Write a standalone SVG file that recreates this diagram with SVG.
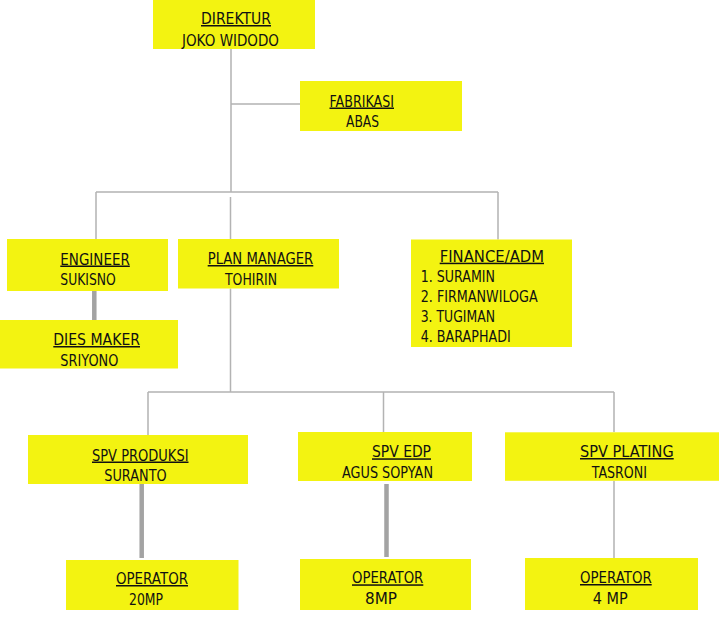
<svg xmlns="http://www.w3.org/2000/svg" width="719" height="620" viewBox="0 0 719 620">
<style>
.box{fill:#f3f311;}
text{font-family:"DejaVu Sans","Liberation Sans",sans-serif;font-size:15px;fill:#111;}
.t{text-decoration:underline;}
.thin{stroke:#b3b3b3;stroke-width:1.5;fill:none;}
.thick{stroke:#a3a3a3;stroke-width:4.5;fill:none;}
</style>
<rect width="719" height="620" fill="#ffffff"/>
<g id="connectors">
<path class="thin" d="M231 49V192M231 104H300M96 192H498M96 192V239M498 192V239.5M230.5 197V239M230.5 288.5V392M148 392H614M148 392V435M383.5 392V432M614 392V432M614 481V558"/>
<path class="thick" d="M94.3 291V320M141.7 484V558M386.5 484V557"/>
</g>
<g id="direktur">
<rect class="box" x="153" y="0" width="162" height="49"/>
<text class="t" x="201" y="24" textLength="70" lengthAdjust="spacingAndGlyphs">DIREKTUR</text>
<text x="182" y="46" textLength="97" lengthAdjust="spacingAndGlyphs">JOKO WIDODO</text>
</g>
<g id="fabrikasi">
<rect class="box" x="300" y="81" width="162" height="50"/>
<text class="t" x="329.5" y="106.5" textLength="64.5" lengthAdjust="spacingAndGlyphs">FABRIKASI</text>
<text x="346" y="126.5" textLength="33" lengthAdjust="spacingAndGlyphs">ABAS</text>
</g>
<g id="engineer">
<rect class="box" x="7" y="239" width="161" height="52"/>
<text class="t" x="60.3" y="264.5" textLength="69.5" lengthAdjust="spacingAndGlyphs">ENGINEER</text>
<text x="60.3" y="284.5" textLength="55.5" lengthAdjust="spacingAndGlyphs">SUKISNO</text>
</g>
<g id="dies-maker">
<rect class="box" x="0" y="320" width="178" height="48.5"/>
<text class="t" x="53.3" y="345" textLength="86.7" lengthAdjust="spacingAndGlyphs">DIES MAKER</text>
<text x="60.3" y="365.5" textLength="58" lengthAdjust="spacingAndGlyphs">SRIYONO</text>
</g>
<g id="plan-manager">
<rect class="box" x="178" y="239" width="161" height="49.5"/>
<text class="t" x="207.7" y="264" textLength="105.6" lengthAdjust="spacingAndGlyphs">PLAN MANAGER</text>
<text x="225" y="284.5" textLength="52" lengthAdjust="spacingAndGlyphs">TOHIRIN</text>
</g>
<g id="finance">
<rect class="box" x="411" y="239.5" width="161" height="107.5"/>
<text class="t" x="439.7" y="261.7" textLength="104.3" lengthAdjust="spacingAndGlyphs">FINANCE/ADM</text>
<text x="420.7" y="282.3" textLength="74.3" lengthAdjust="spacingAndGlyphs">1. SURAMIN</text>
<text x="420.7" y="302.3" textLength="117" lengthAdjust="spacingAndGlyphs">2. FIRMANWILOGA</text>
<text x="420.7" y="322.3" textLength="74.3" lengthAdjust="spacingAndGlyphs">3. TUGIMAN</text>
<text x="420.7" y="342.3" textLength="90" lengthAdjust="spacingAndGlyphs">4. BARAPHADI</text>
</g>
<g id="spv-produksi">
<rect class="box" x="28" y="435" width="220" height="49"/>
<text class="t" x="92" y="460.5" textLength="96.5" lengthAdjust="spacingAndGlyphs">SPV PRODUKSI</text>
<text x="104.3" y="480.7" textLength="62.4" lengthAdjust="spacingAndGlyphs">SURANTO</text>
</g>
<g id="spv-edp">
<rect class="box" x="298" y="432" width="174" height="49"/>
<text class="t" x="372" y="457.3" textLength="59" lengthAdjust="spacingAndGlyphs">SPV EDP</text>
<text x="342" y="477.7" textLength="91" lengthAdjust="spacingAndGlyphs">AGUS SOPYAN</text>
</g>
<g id="spv-plating">
<rect class="box" x="505" y="432.3" width="214" height="48.5"/>
<text class="t" x="580" y="457" textLength="93.7" lengthAdjust="spacingAndGlyphs">SPV PLATING</text>
<text x="591.7" y="477.7" textLength="55.3" lengthAdjust="spacingAndGlyphs">TASRONI</text>
</g>
<g id="operator-produksi">
<rect class="box" x="66" y="560" width="172.5" height="50"/>
<text class="t" x="116" y="584" textLength="72" lengthAdjust="spacingAndGlyphs">OPERATOR</text>
<text x="129" y="604.5" textLength="34" lengthAdjust="spacingAndGlyphs">20MP</text>
</g>
<g id="operator-edp">
<rect class="box" x="300" y="559" width="171" height="51"/>
<text class="t" x="352" y="583.3" textLength="71.3" lengthAdjust="spacingAndGlyphs">OPERATOR</text>
<text x="365" y="604" textLength="32" lengthAdjust="spacingAndGlyphs">8MP</text>
</g>
<g id="operator-plating">
<rect class="box" x="525" y="558" width="173" height="52"/>
<text class="t" x="580" y="583" textLength="71.7" lengthAdjust="spacingAndGlyphs">OPERATOR</text>
<text x="592.7" y="604" textLength="35" lengthAdjust="spacingAndGlyphs">4 MP</text>
</g>
</svg>
